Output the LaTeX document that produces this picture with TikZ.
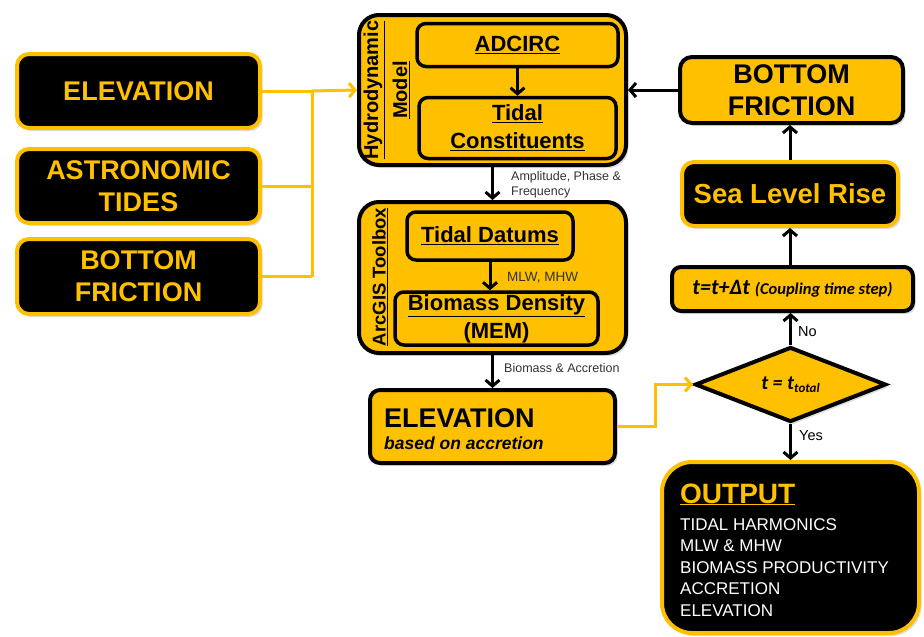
\documentclass[tikz,border=0pt]{standalone}
\usepackage{fontspec}
\setmainfont{Liberation Sans}
\newfontfamily\calib{Carlito}
\usetikzlibrary{arrows.meta,shapes.geometric,shadows}
\definecolor{gold}{HTML}{FFC000}
\definecolor{labgray}{HTML}{333333}
\tikzset{
  shad/.style={drop shadow={opacity=0.25, shadow xshift=2.5pt, shadow yshift=-3pt}},
  darkbox/.style={rectangle, rounded corners=12pt, fill=black, draw=gold, line width=4pt,
    text=gold, align=center, inner sep=0pt, shad,
    font=\bfseries\fontsize{27}{32}\selectfont},
  outerbox/.style={rectangle, rounded corners=20pt, fill=gold, draw=black, line width=4pt,
    inner sep=0pt, shad},
  innerbox/.style={rectangle, rounded corners=9pt, fill=gold, draw=black, line width=3.5pt,
    align=center, inner sep=0pt, font=\bfseries\fontsize{22}{28}\selectfont},
  goldbox/.style={rectangle, rounded corners=10pt, fill=gold, draw=black, line width=4pt,
    align=center, inner sep=0pt, shad},
  blk/.style={draw=black, line width=3pt, -{Straight Barb[length=6pt,width=14pt,line width=3pt]}},
  ylw/.style={draw=gold, line width=3pt},
  ylwarr/.style={ylw, -{Straight Barb[length=6pt,width=14pt,line width=3pt]}},
  lab/.style={text=labgray, inner sep=0pt, align=left, font=\fontsize{12.5}{15}\selectfont},
}
\begin{document}
\begin{tikzpicture}[x=1pt,y=-1pt]
\useasboundingbox[fill=white] (0,0) rectangle (924,637);

% left inputs
\node[darkbox, minimum width=243pt, minimum height=74pt] (elev) at (138.5,91) {ELEVATION};
\node[darkbox, minimum width=243pt, minimum height=74pt] (astro) at (138.5,186) {ASTRONOMIC\\TIDES};
\node[darkbox, minimum width=243pt, minimum height=75pt] (bfl) at (138.5,276.5) {BOTTOM\\FRICTION};

% hydrodynamic model
\node[outerbox, minimum width=267pt, minimum height=150pt] (hydro) at (492.5,90) {};
\node[innerbox, minimum width=201pt, minimum height=43pt] (adcirc) at (517.5,45) {\underline{ADCIRC}};
\node[innerbox, minimum width=197pt, minimum height=61pt] (tidal) at (517.5,128) {\underline{Tidal}\\\underline{Constituents}};
\node[rotate=90, align=center, inner sep=0pt, font=\bfseries\fontsize{20}{29}\selectfont] (hlab) at (386.5,90) {\underline{Hydrodynamic}\\\underline{Model}};

% ArcGIS toolbox
\node[outerbox, minimum width=267pt, minimum height=151pt] (arcgis) at (492.5,277.5) {};
\node[innerbox, minimum width=166pt, minimum height=48pt] (datums) at (490,236) {\underline{Tidal Datums}};
\node[innerbox, minimum width=203pt, minimum height=53pt] (biomass) at (496.5,318.5) {\underline{Biomass Density}\\(MEM)};
\node[rotate=90, inner sep=0pt, font=\bfseries\fontsize{18.5}{22}\selectfont] (alab) at (380,277) {\underline{ArcGIS Toolbox}};

% elevation based on accretion
\node[goldbox, minimum width=245pt, minimum height=73pt] (elev2) at (492.5,426.5) {};
\node[anchor=base west, inner sep=0pt, font=\bfseries\fontsize{27}{30}\selectfont] (e2a) at (384,427) {ELEVATION};
\node[anchor=base west, inner sep=0pt, font=\bfseries\itshape\fontsize{17.5}{21}\selectfont] (e2b) at (384,449) {based on accretion};

% decision
\node[diamond, fill=gold, draw=black, line width=4pt, minimum width=191pt, minimum height=75pt, inner sep=0pt, shad,
  font=\calib\bfseries\itshape] (dec) at (790.5,384.5)
  {\fontsize{20}{22}\selectfont t = t\raisebox{-2.5pt}{\fontsize{13}{14}\selectfont total}};

% right column
\node[goldbox, rounded corners=9pt, minimum width=241pt, minimum height=44pt, font=\calib\bfseries\itshape] (stepbox) at (792.5,289)
  {\fontsize{22}{24}\selectfont t=t+Δt \fontsize{16.5}{18}\selectfont(Coupling time step)};
\node[darkbox, minimum width=216pt, minimum height=64pt, font=\bfseries\fontsize{27.5}{32}\selectfont] (slr) at (790,194) {Sea Level Rise};
\node[goldbox, rounded corners=12pt, minimum width=223pt, minimum height=66pt, font=\bfseries\fontsize{27}{32}\selectfont] (bfr) at (791.5,90) {BOTTOM\\FRICTION};

% output
\node[darkbox, rounded corners=30pt, minimum width=257pt, minimum height=171pt] (out) at (790.5,547.5) {};
\node[anchor=base west, inner sep=0pt, text=gold, font=\bfseries\fontsize{28}{30}\selectfont] (outt) at (680,503) {\underline{OUTPUT}};
\node[anchor=base west, inner sep=0pt, text=white, font=\fontsize{17}{21.3}\selectfont] (o1) at (680,530) {TIDAL HARMONICS};
\node[anchor=base west, inner sep=0pt, text=white, font=\fontsize{17}{21.3}\selectfont] (o2) at (680,551.5) {MLW \& MHW};
\node[anchor=base west, inner sep=0pt, text=white, font=\fontsize{17}{21.3}\selectfont] (o3) at (680,573) {BIOMASS PRODUCTIVITY};
\node[anchor=base west, inner sep=0pt, text=white, font=\fontsize{17}{21.3}\selectfont] (o4) at (680,594.5) {ACCRETION};
\node[anchor=base west, inner sep=0pt, text=white, font=\fontsize{17}{21.3}\selectfont] (o5) at (680,616) {ELEVATION};

% yellow input connectors
\coordinate (j1) at (312,91);
\coordinate (j2) at (312,186);
\coordinate (j3) at (312,276.5);
\draw[ylw] (elev.east) -- (j1);
\draw[ylw] (astro.east) -- (j2);
\draw[ylw] (bfl.east) -- (j3);
\draw[ylw] (j3) -- (j1);
\draw[ylwarr] (j1) -- (hydro.west);

% black arrows
\draw[blk] (adcirc.south) -- (adcirc.south |- tidal.north);
\draw[blk] (hydro.south) -- (arcgis.north);
\draw[blk] (datums.south) -- (datums.south |- biomass.north);
\draw[blk] (arcgis.south) -- (elev2.north);
\draw[blk] (bfr.west) -- (hydro.east);
\draw[blk] (slr.north) -- (slr.north |- bfr.south);
\draw[blk] (stepbox.north -| slr.north) -- (slr.south);
\draw[blk] (dec.north) -- (dec.north |- stepbox.south);
\draw[blk] (dec.south) -- (dec.south |- out.north);

% elevation to decision
\coordinate (k1) at (655,426.5);
\coordinate (k2) at (655,384.5);
\draw[ylwarr] (elev2.east) -- (k1) -- (k2) -- (dec.west);

% labels
\node[lab, anchor=north west] (l1) at (511,171) {Amplitude, Phase \&\\Frequency};
\node[lab, anchor=west, font=\fontsize{13.5}{15}\selectfont] (l2) at (507,278) {MLW, MHW};
\node[lab, anchor=west] (l3) at (504,368) {Biomass \& Accretion};
\node[lab, anchor=west, text=black, font=\fontsize{14.5}{16}\selectfont] (l4) at (798,332) {No};
\node[lab, anchor=west, text=black, font=\fontsize{14.5}{16}\selectfont] (l5) at (799,436) {Yes};
\end{tikzpicture}
\end{document}
